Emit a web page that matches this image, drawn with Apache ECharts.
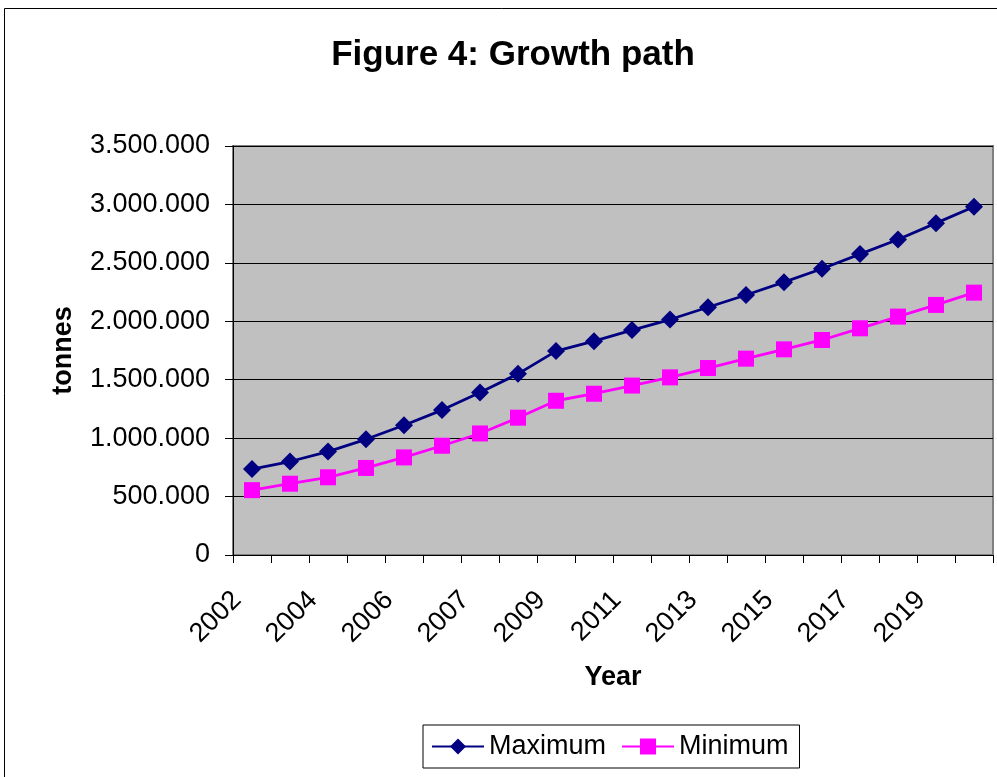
<!DOCTYPE html>
<html>
<head>
<meta charset="utf-8">
<script src="https://cdn.jsdelivr.net/npm/echarts@6/dist/echarts.min.js"></script>
<style>
  html, body { margin: 0; padding: 0; background: #fff; }
  #chart { width: 997px; height: 777px; }
</style>
</head>
<body>
<div id="chart"></div>
<script>
// Data
const categories = ['2002','2003','2004','2005','2006','2006 (2)','2007','2008','2009','2010',
                    '2011','2012','2013','2014','2015','2016','2017','2018','2019','2020'];
const maximumValues = [735000, 800000, 885000, 990000, 1110000, 1240000, 1390000, 1550000, 1745000, 1830000,
                       1925000, 2015000, 2120000, 2225000, 2335000, 2450000, 2575000, 2700000, 2840000, 2980000];
const minimumValues = [555000, 610000, 665000, 745000, 835000, 935000, 1040000, 1175000, 1320000, 1380000,
                       1450000, 1520000, 1600000, 1680000, 1760000, 1840000, 1940000, 2040000, 2140000, 2245000];
const seriesNames = ['Maximum', 'Minimum'];
const titleText = 'Figure 4: Growth path';
const xAxisTitle = 'Year';
const yAxisTitle = 'tonnes';

const FONT = "'Liberation Sans', Arial, sans-serif";
const chart = echarts.init(document.getElementById('chart'), null, { renderer: 'canvas' });

function fmt(v) {
  return String(v).replace(/\B(?=(\d{3})+(?!\d))/g, '.');
}

chart.setOption({
  animation: false,
  backgroundColor: '#ffffff',
  textStyle: { fontFamily: FONT },
  graphic: [{
    type: 'rect',
    z: -10,
    silent: true,
    shape: { x: 4.5, y: 8.5, width: 1100, height: 1000 },
    style: { fill: 'none', stroke: '#000', lineWidth: 1 }
  }],
  title: {
    text: titleText,
    left: 508,
    textAlign: 'center',
    top: 33,
    textStyle: { fontFamily: FONT, fontSize: 35, fontWeight: 'bold', color: '#000' }
  },
  grid: {
    left: 233, top: 146, right: 4, bottom: 222,
    show: true,
    backgroundColor: '#c0c0c0',
    borderColor: '#808080',
    borderWidth: 2
  },
  legend: {
    left: 423,
    top: 725,
    padding: [8, 11, 8, 8],
    itemWidth: 52,
    itemHeight: 20,
    itemGap: 15,
    backgroundColor: '#fff',
    borderColor: '#000',
    borderWidth: 1,
    borderRadius: 0,
    textStyle: { fontFamily: FONT, fontSize: 27, color: '#000' },
    data: seriesNames
  },
  xAxis: {
    type: 'category',
    data: categories,
    boundaryGap: true,
    name: xAxisTitle,
    nameLocation: 'middle',
    nameGap: 109,
    nameTextStyle: { fontFamily: FONT, fontSize: 27, fontWeight: 'bold', color: '#000' },
    axisLine: { show: true, lineStyle: { color: '#000', width: 1 } },
    axisTick: { show: true, inside: false, length: 8, interval: 0, lineStyle: { color: '#000' } },
    axisLabel: {
      interval: 1,
      rotate: 45,
      margin: 26,
      padding: [0, 21, 0, 0],
      fontFamily: FONT,
      fontSize: 27,
      color: '#000'
    },
    splitLine: { show: false }
  },
  yAxis: {
    type: 'value',
    min: 0,
    max: 3500000,
    interval: 500000,
    name: yAxisTitle,
    nameLocation: 'middle',
    nameGap: 156,
    nameRotate: 90,
    nameTextStyle: { fontFamily: FONT, fontSize: 27, fontWeight: 'bold', color: '#000' },
    axisLine: { show: true, lineStyle: { color: '#000', width: 1 } },
    axisTick: { show: true, inside: false, length: 8, lineStyle: { color: '#000' } },
    axisLabel: {
      margin: 23,
      fontFamily: FONT,
      fontSize: 27,
      color: '#000',
      formatter: fmt
    },
    splitLine: { show: true, lineStyle: { color: '#000', width: 1 } }
  },
  series: [
    {
      name: seriesNames[0],
      type: 'line',
      data: maximumValues,
      symbol: 'diamond',
      symbolSize: [18, 18],
      showAllSymbol: true,
      lineStyle: { color: '#000080', width: 2.8 },
      itemStyle: { color: '#000080' },
      z: 3
    },
    {
      name: seriesNames[1],
      type: 'line',
      data: minimumValues,
      symbol: 'rect',
      symbolSize: [16, 16],
      showAllSymbol: true,
      lineStyle: { color: '#ff00ff', width: 2.8 },
      itemStyle: { color: '#ff00ff' },
      z: 2
    }
  ]
});
</script>
</body>
</html>
